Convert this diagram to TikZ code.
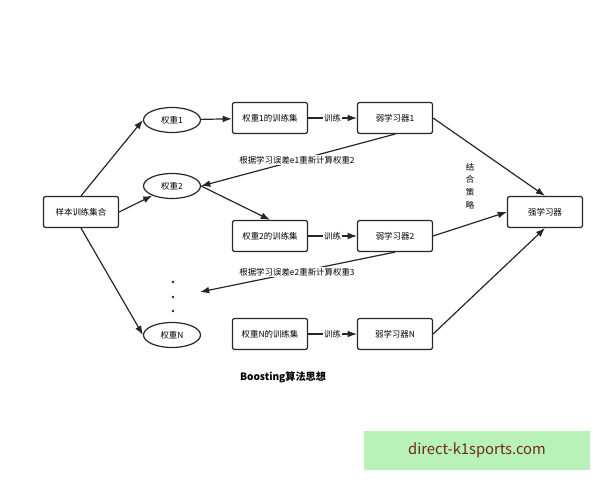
\documentclass[tikz,border=0pt]{standalone}
\usepackage{fontspec}
\setmainfont{Noto Sans CJK SC}
\usetikzlibrary{arrows.meta,shapes.geometric}
\pgfdeclarelayer{edgelayer}
\pgfdeclarelayer{nodelayer}
\pgfsetlayers{edgelayer,nodelayer,main}
\definecolor{adgreen}{RGB}{184,242,184}
\definecolor{adtext}{RGB}{110,42,24}
\tikzstyle{none}=[inner sep=0pt, font=\fontsize{6}{9}\selectfont]
\tikzstyle{edge}=[draw=black!85, line width=0.85pt, -{Latex[length=2.3mm,width=1.7mm]}]
\tikzstyle{weight}=[ellipse, draw=black!85, line width=0.85pt, fill=white, minimum width=1.425cm, minimum height=0.625cm, inner sep=0pt, font=\fontsize{6}{7}\selectfont]
\tikzstyle{block}=[rectangle, rounded corners=1.5pt, draw=black!85, line width=0.85pt, fill=white, minimum width=1.875cm, minimum height=0.775cm, inner sep=0pt, font=\fontsize{6}{7}\selectfont]
\tikzstyle{edgetext}=[fill=white, inner sep=1pt, font=\fontsize{6}{7}\selectfont]
\tikzstyle{dot}=[circle, fill=black!85, inner sep=0pt, minimum size=2pt]

\begin{document}
\begin{tikzpicture}
			\useasboundingbox (0, 0) rectangle (15, 12);
			\begin{pgfonlayer}{nodelayer}
			\node [style=block] (0) at (2.025, 6.7) {样本训练集合};
			\node [style=weight] (1) at (4.3, 9.0) {权重1};
			\node [style=weight] (2) at (4.3, 7.35) {权重2};
			\node [style=weight] (3) at (4.3, 3.625) {权重N};
			\node [style=block] (4) at (6.75, 9.05) {权重1的训练集};
			\node [style=block] (5) at (6.75, 6.1) {权重2的训练集};
			\node [style=block] (6) at (6.75, 3.65) {权重N的训练集};
			\node [style=block] (7) at (9.875, 9.05) {弱学习器1};
			\node [style=block] (8) at (9.875, 6.1) {弱学习器2};
			\node [style=block] (9) at (9.875, 3.65) {弱学习器N};
			\node [style=block] (10) at (13.625, 6.7) {强学习器};
			\node [style=none, align=center] (11) at (11.75, 7.35) {结\\合\\策\\略};
			\node [style=edgetext] (12) at (7.425, 8.0) {根据学习误差e1重新计算权重2};
			\node [style=edgetext] (13) at (7.425, 5.2) {根据学习误差e2重新计算权重3};
			\coordinate (14) at (5.0, 4.7);
			\node [style=none, font=\fontsize{7.2}{8}\selectfont\bfseries] (15) at (7.075, 2.575) {Boosting算法思想};
			\node [style=dot] (16) at (4.325, 4.95) {};
			\node [style=dot] (17) at (4.325, 4.575) {};
			\node [style=dot] (18) at (4.325, 4.225) {};
			\node [fill=adgreen, text=adtext, minimum width=5.65cm, minimum height=0.975cm, inner sep=0pt, font=\fontsize{10.5}{12}\selectfont] (19) at (11.925, 0.7375) {direct-k1sports.com};
			\end{pgfonlayer}
			\begin{pgfonlayer}{edgelayer}
			\draw [style=edge] (0.north) to (1.west);
			\draw [style=edge] (0.east) to (2);
			\draw [style=edge] (0.south) to (3.west);
			\draw [style=edge] (1) to (4);
			\draw [style=edge] (2.east) to (5.north);
			\draw [style=edge] (4) to node[style=edgetext] {训练} (7);
			\draw [style=edge] (5) to node[style=edgetext] {训练} (8);
			\draw [style=edge] (6) to node[style=edgetext] {训练} (9);
			\draw [style=edge] (7.south) to (2.east);
			\draw [style=edge] (8.south) to (14);
			\draw [style=edge] (7.east) to (10.north);
			\draw [style=edge] (8.east) to (10.west);
			\draw [style=edge] (9.east) to (10.south);
			\end{pgfonlayer}
			\end{tikzpicture}
\end{document}
